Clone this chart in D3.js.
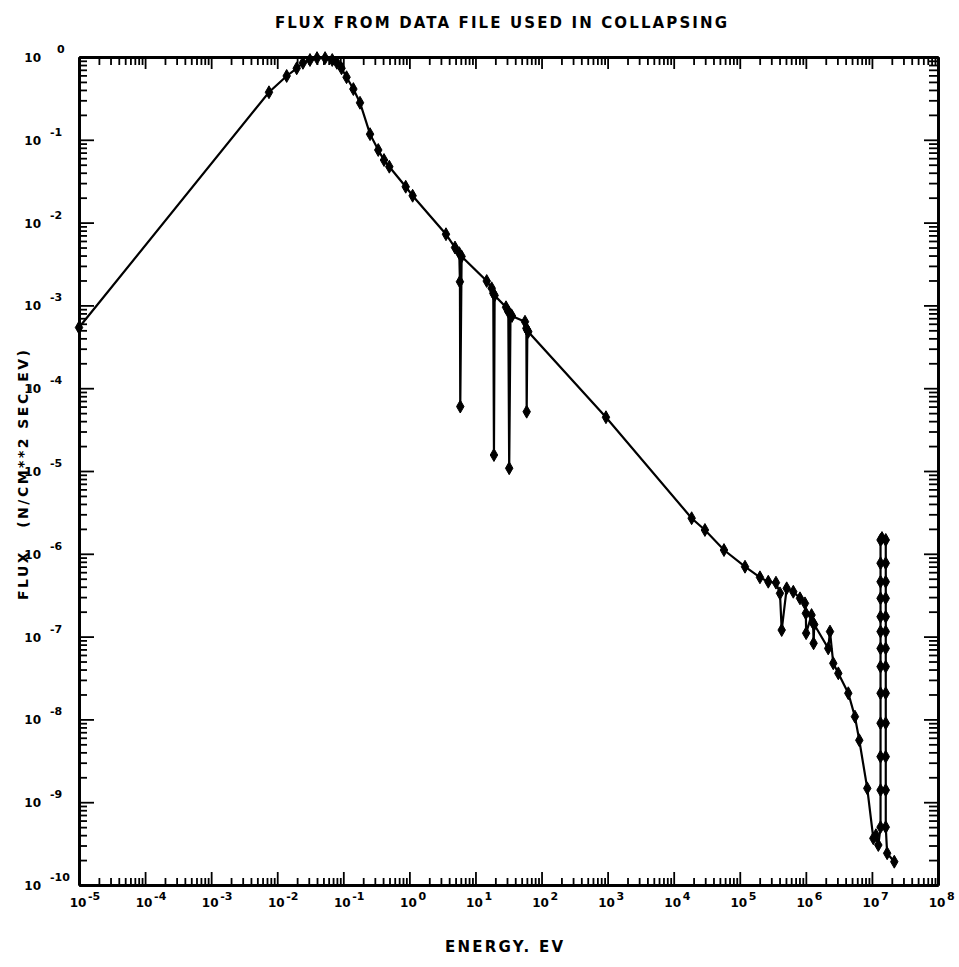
<!DOCTYPE html>
<html>
<head>
<meta charset="utf-8">
<script src="https://cdn.jsdelivr.net/npm/d3@7"></script>
<style>
  body { margin: 0; background: #fff; }
  text { font-family: "DejaVu Sans", sans-serif; fill: #000; }
</style>
</head>
<body>
<div id="chart"></div>
<script>
// values (energy in eV, flux in n/cm^2 s eV)
var energy = [
  1e-5, 7.5e-3, 1.39e-2, 1.97e-2, 2.45e-2, 3.13e-2, 4.0e-2, 5.3e-2, 6.8e-2, 8.0e-2,
  9.4e-2, 0.112, 0.142, 0.179, 0.254, 0.338, 0.413, 0.497, 0.88, 1.12,
  3.58, 4.9, 5.69, 5.82, 5.89, 6.17,
  14.8, 17.6, 18.6, 19.05, 19.5,
  29.0, 31.4, 32.4, 33.9, 35.7,
  56.2, 58.9, 59.6, 61, 63,
  944, 1.87e4, 2.97e4, 5.77e4, 1.2e5, 2.02e5, 2.7e5, 3.53e5, 4.06e5, 4.31e5,
  5.13e5, 6.46e5, 8.15e5, 9.7e5, 1.0e6, 1.01e6, 1.22e6, 1.29e6, 1.31e6, 1.34e6,
  2.18e6, 2.32e6, 2.6e6, 3.1e6, 4.39e6, 5.53e6, 6.44e6, 8.5e6, 1.05e7, 1.15e7, 1.25e7,
  1.35e7, 1.35e7, 1.35e7, 1.35e7, 1.35e7, 1.35e7, 1.35e7, 1.35e7, 1.35e7, 1.35e7, 1.35e7, 1.35e7, 1.35e7,
  1.42e7,
  1.62e7, 1.62e7, 1.62e7, 1.62e7, 1.62e7, 1.62e7, 1.62e7, 1.62e7, 1.62e7, 1.62e7, 1.62e7, 1.62e7, 1.62e7,
  1.7e7, 2.18e7
];
var flux = [
  5.4e-4, 0.375, 0.59, 0.73, 0.85, 0.92, 0.97, 0.97, 0.92, 0.85,
  0.73, 0.57, 0.41, 0.28, 0.117, 0.0753, 0.057, 0.0473, 0.0271, 0.0211,
  7.24e-3, 5.0e-3, 4.27e-3, 1.93e-3, 6.0e-5, 3.9e-3,
  1.97e-3, 1.61e-3, 1.40e-3, 1.56e-5, 1.32e-3,
  9.5e-4, 8.4e-4, 1.08e-5, 7.8e-4, 7.45e-4,
  6.35e-4, 5.28e-4, 5.2e-5, 5.0e-4, 4.8e-4,
  4.46e-5, 2.69e-6, 1.94e-6, 1.11e-6, 6.98e-7, 5.2e-7, 4.6e-7, 4.48e-7, 3.33e-7, 1.2e-7,
  3.83e-7, 3.48e-7, 2.9e-7, 2.52e-7, 1.91e-7, 1.1e-7, 1.82e-7, 1.45e-7, 8.3e-8, 1.4e-7,
  7.2e-8, 1.15e-7, 4.76e-8, 3.6e-8, 2.07e-8, 1.08e-8, 5.6e-9, 1.47e-9, 3.66e-10, 4.0e-10, 3.04e-10,
  5e-10, 1.4e-9, 3.55e-9, 9.0e-9, 2.07e-8, 4.34e-8, 7.2e-8, 1.15e-7, 1.74e-7, 2.9e-7, 4.6e-7, 7.7e-7, 1.47e-6,
  1.55e-6,
  1.47e-6, 7.7e-7, 4.6e-7, 2.9e-7, 1.74e-7, 1.15e-7, 7.2e-8, 4.34e-8, 2.07e-8, 9.0e-9, 3.55e-9, 1.4e-9, 5e-10,
  2.42e-10, 1.91e-10
];
var xExponents = [-5, -4, -3, -2, -1, 0, 1, 2, 3, 4, 5, 6, 7, 8];
var yExponents = [0, -1, -2, -3, -4, -5, -6, -7, -8, -9, -10];
var titleText = "FLUX FROM DATA FILE USED IN COLLAPSING";
var xLabel = "ENERGY. EV";
var yLabel = "FLUX   (N/CM**2 SEC_EV)";

var W = 959, H = 967;
var margin = {top: 57, right: 21, bottom: 82, left: 79};
var w = W - margin.left - margin.right,
    h = H - margin.top - margin.bottom;

var svg = d3.select("#chart").append("svg")
    .attr("width", W).attr("height", H);
var g = svg.append("g")
    .attr("transform", "translate(" + margin.left + "," + margin.top + ")");

var x = d3.scaleLog().domain([1e-5, 1e8]).range([0, w]);
var y = d3.scaleLog().domain([1e-10, 1]).range([h, 0]);

var xMajor = xExponents.map(function(e) { return Math.pow(10, e); });
var yMajor = yExponents.map(function(e) { return Math.pow(10, e); });
function minors(majors) {
  var out = [];
  majors.slice().sort(function(a, b) { return a - b; }).slice(0, -1).forEach(function(m) {
    for (var k = 2; k < 10; k++) out.push(m * k);
  });
  return out;
}
var xMinor = minors(xMajor), yMinor = minors(yMajor);

function drawAxis(axisFn, scale, horizontal, transform, minorLen, majorLen) {
  g.append("g").attr("class", "axis").attr("transform", transform)
    .call(axisFn(scale).tickValues(horizontal ? xMinor : yMinor)
      .tickSize(-minorLen).tickSizeOuter(0).tickFormat(""));
  g.append("g").attr("class", "axis").attr("transform", transform)
    .call(axisFn(scale).tickValues(horizontal ? xMajor : yMajor)
      .tickSize(-majorLen).tickSizeOuter(0).tickFormat(""));
}
drawAxis(d3.axisBottom, x, true, "translate(0," + h + ")", 7, 13);
drawAxis(d3.axisTop, x, true, "translate(0,0)", 8, 12);
drawAxis(d3.axisLeft, y, false, "translate(0,0)", 8, 15);
drawAxis(d3.axisRight, y, false, "translate(" + w + ",0)", 9, 14);

g.selectAll(".axis line").attr("stroke", "#000").attr("stroke-width", 1.8);
g.selectAll(".axis path").attr("stroke", "#000").attr("stroke-width", 2.8);

// tick labels: 10 with raised exponent
g.append("g").selectAll("text").data(xExponents).enter().append("text")
    .attr("x", function(e) { return x(Math.pow(10, e)) - 1; })
    .attr("y", h + 22)
    .attr("text-anchor", "middle")
    .style("font-size", "12px").style("font-weight", "bold")
    .text("10");
g.append("g").selectAll("text").data(xExponents).enter().append("text")
    .attr("x", function(e) { return x(Math.pow(10, e)) + 9; })
    .attr("y", h + 15)
    .style("font-size", "11px").style("font-weight", "bold")
    .text(function(e) { return e; });

g.append("g").selectAll("text").data(yExponents).enter().append("text")
    .attr("x", -38)
    .attr("y", function(e) { return y(Math.pow(10, e)) + 5; })
    .attr("text-anchor", "end")
    .style("font-size", "12px").style("font-weight", "bold")
    .text("10");
g.append("g").selectAll("text").data(yExponents).enter().append("text")
    .attr("x", function(e) { return e === 0 ? -22 : -29; })
    .attr("y", function(e) { return y(Math.pow(10, e)) - 4; })
    .style("font-size", "11px").style("font-weight", "bold")
    .text(function(e) { return e; });

// data line and markers
var pts = energy.map(function(e, i) { return [e, flux[i]]; });
var line = d3.line()
    .x(function(d) { return x(d[0]); })
    .y(function(d) { return y(d[1]); });

g.append("path")
    .datum(pts)
    .attr("d", line)
    .attr("fill", "none")
    .attr("stroke", "#000")
    .attr("stroke-width", 2.2);

var marker = d3.symbol().type(d3.symbolDiamond).size(48);
g.append("g").selectAll("path").data(pts).enter().append("path")
    .attr("transform", function(d) { return "translate(" + x(d[0]) + "," + y(d[1]) + ")"; })
    .attr("d", marker)
    .attr("fill", "#000")
    .attr("stroke", "#000")
    .attr("stroke-width", 1);

// titles
svg.append("text")
    .attr("x", 501).attr("y", 28)
    .attr("text-anchor", "middle")
    .attr("textLength", 452).attr("lengthAdjust", "spacing")
    .style("font-size", "15px").style("font-weight", "bold")
    .text(titleText);

svg.append("text")
    .attr("x", 504).attr("y", 952)
    .attr("text-anchor", "middle")
    .attr("textLength", 118).attr("lengthAdjust", "spacing")
    .style("font-size", "15px").style("font-weight", "bold")
    .text(xLabel);

svg.append("text")
    .attr("transform", "translate(28,475) rotate(-90)")
    .attr("text-anchor", "middle")
    .attr("textLength", 250).attr("lengthAdjust", "spacing")
    .style("font-size", "14px").style("font-weight", "bold")
    .style("white-space", "pre")
    .text(yLabel);
</script>
</body>
</html>
